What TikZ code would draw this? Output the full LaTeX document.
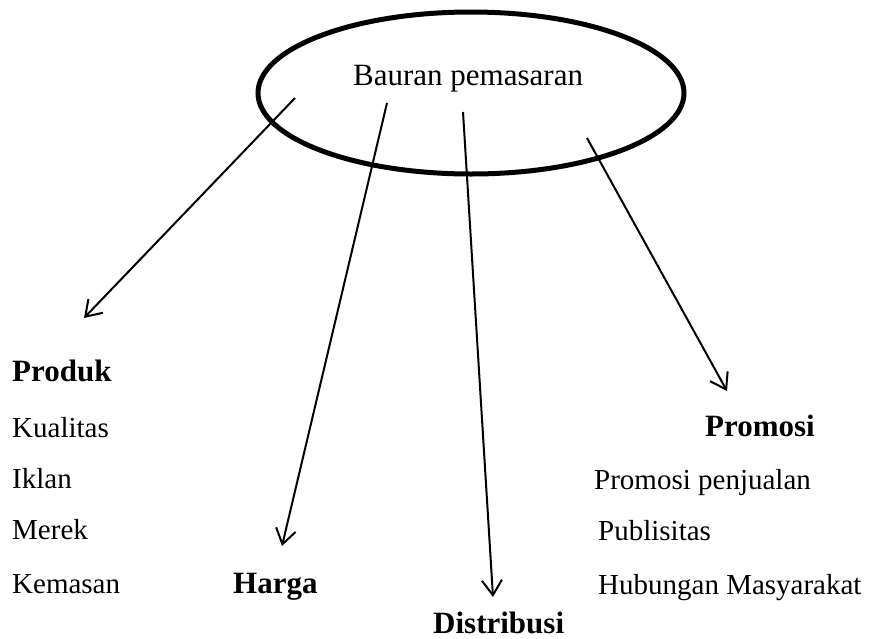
\documentclass[tikz,border=0pt]{standalone}
\usepackage{fontspec}
\setmainfont{Liberation Serif}
\usetikzlibrary{arrows.meta,shapes.geometric}
\begin{document}
\begin{tikzpicture}[x=1pt,y=-1pt,
 lbl/.style={anchor=base west, inner sep=0pt, font=\fontsize{29}{34}\selectfont},
 hd/.style={anchor=base west, inner sep=0pt, font=\fontsize{31}{36}\selectfont\bfseries},
 arr/.style={line width=2pt, -{Straight Barb[length=15pt,width=20pt,line width=2pt]}}]
\useasboundingbox (0,0) rectangle (875,638);
\node[draw, ellipse, line width=5pt, minimum width=426pt, minimum height=162pt, inner sep=0pt] (mix) at (471,93) {};
\node[anchor=base west, inner sep=0pt, font=\fontsize{31}{36}\selectfont] (title) at (353,85) {Bauran pemasaran};
% start and end points of the connectors
\coordinate (s1) at (295,98);
\coordinate (e1) at (84,318);
\coordinate (s2) at (387,103);
\coordinate (e2) at (282,546);
\coordinate (s3) at (463,112);
\coordinate (e3) at (493,597);
\coordinate (s4) at (587,138);
\coordinate (e4) at (727,391);
\draw[arr] (s1) -- (e1);
\draw[arr] (s2) -- (e2);
\draw[arr] (s3) -- (e3);
\draw[arr] (s4) -- (e4);
% Produk
\node[hd] (produk) at (12,381) {Produk};
\node[lbl] (kual) at (12,437) {Kualitas};
\node[lbl] (iklan) at (12,488) {Iklan};
\node[lbl] (merek) at (12,539) {Merek};
\node[lbl] (kemas) at (12,593) {Kemasan};
% Harga, Distribusi
\node[hd] (harga) at (233,593) {Harga};
\node[hd] (distr) at (433,633) {Distribusi};
% Promosi
\node[hd] (promo) at (705,436) {Promosi};
\node[lbl] (pp) at (594,489) {Promosi penjualan};
\node[lbl] (pub) at (598,540) {Publisitas};
\node[lbl] (hm) at (598,594) {Hubungan Masyarakat};
\end{tikzpicture}
\end{document}
